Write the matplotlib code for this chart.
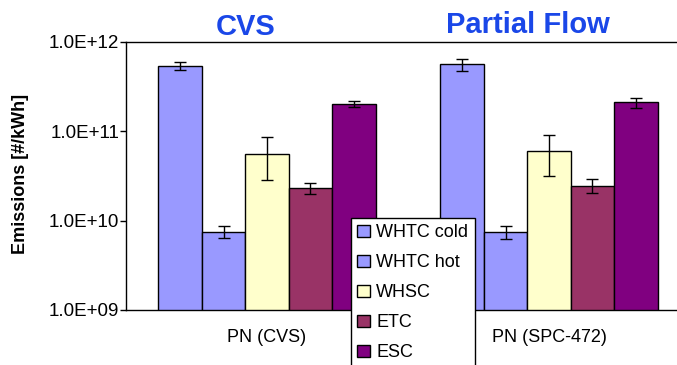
import matplotlib
matplotlib.use("Agg")
import matplotlib.pyplot as plt
import numpy as np
from matplotlib.ticker import FuncFormatter, LogLocator, NullLocator
from matplotlib.patches import Patch

plt.rcParams['font.family'] = ['Liberation Sans', 'DejaVu Sans']

categories = ["PN (CVS)", "PN (SPC-472)"]
series = ["WHTC cold", "WHTC hot", "WHSC", "ETC", "ESC"]
colors = ["#9999FF", "#9999FF", "#FFFFCC", "#993366", "#800080"]
values = {
    "WHTC cold": [5.4e11, 5.7e11],
    "WHTC hot": [7.5e9, 7.5e9],
    "WHSC": [5.6e10, 6.0e10],
    "ETC": [2.3e10, 2.45e10],
    "ESC": [2.0e11, 2.15e11],
}
err_low = {
    "WHTC cold": [4.9e11, 4.7e11],
    "WHTC hot": [6.4e9, 6.2e9],
    "WHSC": [2.85e10, 3.2e10],
    "ETC": [1.97e10, 2.05e10],
    "ESC": [1.86e11, 1.84e11],
}
err_high = {
    "WHTC cold": [5.9e11, 6.4e11],
    "WHTC hot": [8.7e9, 8.7e9],
    "WHSC": [8.6e10, 9.1e10],
    "ETC": [2.66e10, 2.95e10],
    "ESC": [2.17e11, 2.38e11],
}
titles = ["CVS", "Partial Flow"]

W, H = 677, 365
fig = plt.figure(figsize=(W / 100, H / 100), dpi=100)
ax = fig.add_axes([126 / W, 1 - 310 / H, (690 - 126) / W, (310 - 42) / H])

x = np.arange(len(categories))
bw = 0.154
for i, s in enumerate(series):
    pos = x + (i - 2) * bw
    v = np.array(values[s])
    lo = v - np.array(err_low[s])
    hi = np.array(err_high[s]) - v
    ax.bar(pos, v, width=bw, color=colors[i], edgecolor="black", linewidth=1.0,
           zorder=2, label=s)
    ax.errorbar(pos, v, yerr=[lo, hi], fmt="none", ecolor="black",
                elinewidth=1.0, capsize=4, capthick=1.0, zorder=3)

ax.set_yscale("log")
ax.set_ylim(1e9, 1e12)
ax.set_xlim(-0.5, 1.5)
ax.yaxis.set_major_locator(LogLocator(base=10, numticks=10))
ax.yaxis.set_minor_locator(NullLocator())
ax.yaxis.set_major_formatter(FuncFormatter(
    lambda v, p: "1.0E+%02d" % int(round(np.log10(v)))))
ax.tick_params(axis="y", direction="out", length=4, width=1, pad=1,
               labelsize=13.5)
ax.set_xticks(x)
ax.set_xticklabels(categories)
ax.tick_params(axis="x", length=0, pad=14, labelsize=13)
for sp in ["left", "bottom", "top"]:
    ax.spines[sp].set_linewidth(1.0)
    ax.spines[sp].set_color("black")
ax.spines["right"].set_visible(False)

fig.text(21 / W, 1 - 174 / H, "Emissions [#/kWh]", rotation=90,
         ha="center", va="center", fontsize=13, fontweight="bold")

title_x = [246, 528]
title_y = [27, 25]
for t, tx, ty in zip(titles, title_x, title_y):
    fig.text(tx / W, 1 - ty / H, t, ha="center", va="center",
             fontsize=21, fontweight="bold", color="#1A47E8")

handles = [Patch(facecolor=colors[i], edgecolor="black", linewidth=1.0)
           for i in range(len(series))]
leg = fig.legend(handles, series, loc="upper left",
                 bbox_to_anchor=(351 / W, 1 - 218 / H),
                 bbox_transform=fig.transFigure, borderaxespad=0,
                 fontsize=13, frameon=True, fancybox=False,
                 handlelength=0.7, handleheight=0.7, handletextpad=0.35,
                 labelspacing=0.72, borderpad=0.35)
leg.get_frame().set_edgecolor("black")
leg.get_frame().set_linewidth(1.0)
leg.get_frame().set_alpha(1)

fig.savefig("out.png", dpi=100)
